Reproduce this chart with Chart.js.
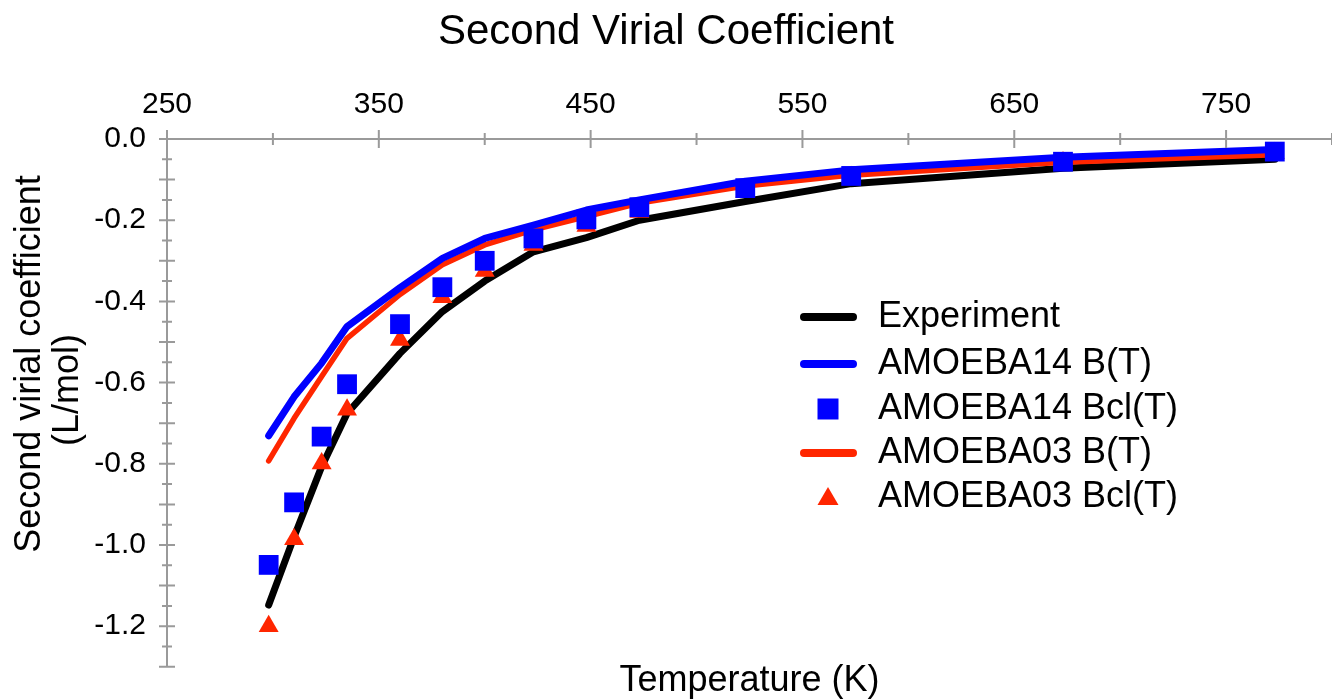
<!DOCTYPE html>
<html>
<head>
<meta charset="utf-8">
<title>Second Virial Coefficient</title>
<script src="https://cdn.jsdelivr.net/npm/chart.js@4.4.1/dist/chart.umd.min.js"></script>
<style>
  html, body { margin: 0; padding: 0; background: #fff; }
  #wrap { width: 1332px; height: 700px; position: relative; }
</style>
</head>
<body>
<div id="wrap"><canvas id="virialChart"></canvas></div>
<script>
// Temperatures (K) shared by every series
const temps = [298, 310, 323, 335, 360, 380, 400, 423, 448, 473, 523, 573, 673, 773];

// Second virial coefficient (L/mol)
const experiment  = [-1.148, -0.980, -0.807, -0.676, -0.528, -0.425, -0.350, -0.278, -0.243, -0.200, -0.154, -0.110, -0.072, -0.050];
const amoeba14B   = [-0.731, -0.635, -0.552, -0.462, -0.366, -0.294, -0.245, -0.212, -0.175, -0.150, -0.104, -0.076, -0.045, -0.026];
const amoeba14Bcl = [-1.049, -0.895, -0.733, -0.604, -0.456, -0.365, -0.300, -0.245, -0.198, -0.168, -0.121, -0.091, -0.056, -0.031];
const amoeba03B   = [-0.793, -0.688, -0.585, -0.491, -0.383, -0.310, -0.261, -0.224, -0.191, -0.158, -0.116, -0.089, -0.057, -0.039];
const amoeba03Bcl = [-1.200, -0.986, -0.799, -0.667, -0.495, -0.390, -0.325, -0.261, -0.214, -0.180, -0.130, -0.094, -0.058, -0.035];

const seriesNames = ['Experiment', 'AMOEBA14 B(T)', 'AMOEBA14 Bcl(T)', 'AMOEBA03 B(T)', 'AMOEBA03 Bcl(T)'];
const yTitle = ['Second virial coefficient', '(L/mol)'];

const FONT = "'Liberation Sans', Arial, Helvetica, sans-serif";
const GREY = '#9a9a9a';
const BLUE = '#0000ff';
const RED = '#ff2600';

const pts = vals => temps.map((t, i) => ({x: t, y: vals[i]}));

// tick marks that cross the axis lines (longer on the major steps)
const crossTicks = {
  id: 'crossTicks',
  afterDraw(chart) {
    const ctx = chart.ctx, xs = chart.scales.x, ys = chart.scales.y;
    ctx.save();
    ctx.strokeStyle = GREY;
    ctx.lineWidth = 2;
    ctx.beginPath();
    xs.ticks.forEach(t => {
      const px = xs.getPixelForValue(t.value);
      const half = Math.abs((t.value - 250) % 100) < 1e-6 ? 9 : 6;
      ctx.moveTo(px, ys.top - half);
      ctx.lineTo(px, ys.top + half);
    });
    ys.ticks.forEach(t => {
      const py = ys.getPixelForValue(t.value);
      const half = Math.round(t.value * 20) % 2 === 0 ? 8 : 5;
      ctx.moveTo(xs.left - half, py);
      ctx.lineTo(xs.left + half, py);
    });
    ctx.stroke();
    ctx.restore();
  }
};

// legend sitting inside the plot, right of centre
const insideLegend = {
  id: 'insideLegend',
  afterDraw(chart) {
    const ctx = chart.ctx;
    const rows = [317, 364, 409, 453, 497];
    const x0 = 800, x1 = 857, xm = 828, xt = 878;
    ctx.save();
    chart.data.datasets.forEach((ds, i) => {
      const y = rows[i];
      if (ds.showLine) {
        ctx.strokeStyle = ds.borderColor;
        ctx.lineWidth = 8;
        ctx.lineCap = 'round';
        ctx.beginPath();
        ctx.moveTo(x0 + 4, y);
        ctx.lineTo(x1 - 4, y);
        ctx.stroke();
      } else {
        ctx.fillStyle = ds.pointBackgroundColor;
        ctx.beginPath();
        if (ds.pointStyle === 'rect') {
          ctx.rect(xm - 10.5, y - 10.5, 21, 21);
        } else {
          ctx.moveTo(xm, y - 10);
          ctx.lineTo(xm + 10.5, y + 8);
          ctx.lineTo(xm - 10.5, y + 8);
          ctx.closePath();
        }
        ctx.fill();
      }
      ctx.fillStyle = '#000';
      ctx.font = '36px ' + FONT;
      ctx.textBaseline = 'middle';
      ctx.textAlign = 'left';
      ctx.fillText(ds.label, xt, y);
    });
    ctx.restore();
  }
};

// two-line rotated title for the y axis
const yAxisTitle = {
  id: 'yAxisTitle',
  afterDraw(chart) {
    const ctx = chart.ctx;
    const spots = [[30, 364], [68, 390]];
    ctx.save();
    ctx.font = '36px ' + FONT;
    ctx.fillStyle = '#000';
    ctx.textAlign = 'center';
    ctx.textBaseline = 'middle';
    spots.forEach(([x, y], i) => {
      ctx.save();
      ctx.translate(x, y);
      ctx.rotate(-Math.PI / 2);
      ctx.fillText(yTitle[i], 0, 0);
      ctx.restore();
    });
    ctx.restore();
  }
};

new Chart(document.getElementById('virialChart'), {
  type: 'scatter',
  data: {
    datasets: [
      {label: seriesNames[0], data: pts(experiment), showLine: true, borderColor: '#000', borderWidth: 7,
       borderCapStyle: 'round', borderJoinStyle: 'round', pointRadius: 0, order: 4},
      {label: seriesNames[1], data: pts(amoeba14B), showLine: true, borderColor: BLUE, borderWidth: 7,
       borderCapStyle: 'round', borderJoinStyle: 'round', pointRadius: 0, order: 2},
      {label: seriesNames[2], data: pts(amoeba14Bcl), showLine: false, pointStyle: 'rect', pointRadius: 14,
       pointBackgroundColor: BLUE, pointBorderWidth: 0, order: 0},
      {label: seriesNames[3], data: pts(amoeba03B), showLine: true, borderColor: RED, borderWidth: 5.5,
       borderCapStyle: 'round', borderJoinStyle: 'round', pointRadius: 0, order: 3},
      {label: seriesNames[4], data: pts(amoeba03Bcl), showLine: false, pointStyle: 'triangle', pointRadius: 11.5,
       pointBackgroundColor: RED, pointBorderWidth: 0, order: 1}
    ]
  },
  options: {
    responsive: true,
    maintainAspectRatio: false,
    animation: false,
    events: [],
    layout: {padding: 0, autoPadding: false},
    clip: false,
    plugins: {
      legend: {display: false},
      tooltip: {enabled: false},
      title: {
        display: true,
        text: 'Second Virial Coefficient',
        color: '#000',
        font: {family: FONT, size: 42, weight: 'normal', lineHeight: 1.2},
        padding: {top: 7, bottom: 0}
      }
    },
    scales: {
      x: {
        type: 'linear', position: 'top', min: 250, max: 800,
        // tick padding stays 0 so no extra right padding is reserved; the gap comes from tickLength
        grid: {display: false, tickLength: 16.5},
        border: {display: true, color: GREY, width: 2},
        ticks: {
          stepSize: 50, autoSkip: false, maxRotation: 0, padding: 0, color: '#000',
          font: {family: FONT, size: 30},
          callback: v => (Math.abs((v - 250) % 100) < 1e-6 ? String(v) : '')
        },
        afterFit(s) { s.height = 81.6; }
      },
      x2: {
        type: 'linear', position: 'bottom', display: true,
        grid: {display: false},
        border: {display: false},
        ticks: {display: false},
        title: {display: true, text: 'Temperature (K)', color: '#000',
                font: {family: FONT, size: 36, lineHeight: 1}, padding: {top: 0, bottom: 1}},
        afterFit(s) { s.height = 33.2; }
      },
      y: {
        type: 'linear', position: 'left', min: -1.3, max: 0,
        grid: {display: false, tickLength: 21},
        border: {display: true, color: GREY, width: 2},
        ticks: {
          stepSize: 0.05, autoSkip: false, padding: 0, color: '#000',
          font: {family: FONT, size: 30},
          callback: v => {
            const k = Math.round(v * 100);
            if (k % 20 !== 0) return '';
            return k === 0 ? '0.0' : v.toFixed(1);
          }
        },
        afterFit(s) { s.width = 167; }
      }
    }
  },
  plugins: [crossTicks, insideLegend, yAxisTitle]
});
</script>
</body>
</html>
